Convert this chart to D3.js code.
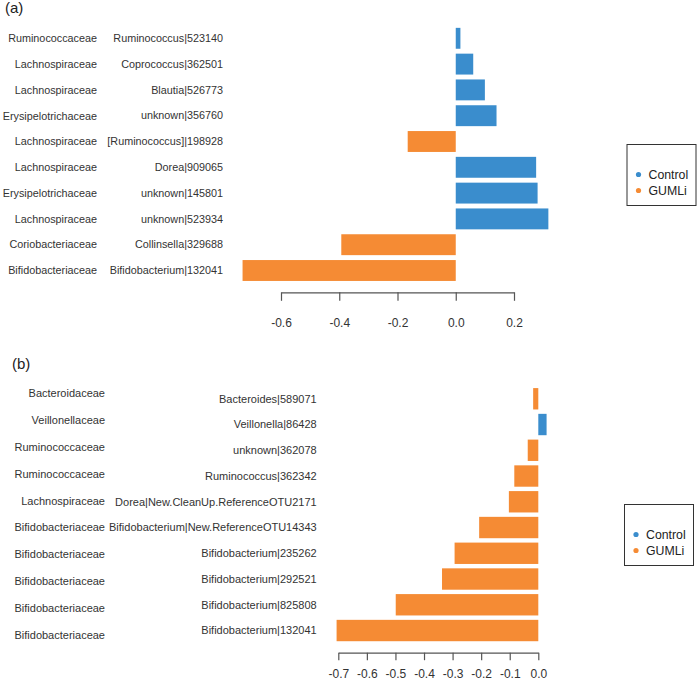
<!DOCTYPE html>
<html>
<head>
<meta charset="utf-8">
<script src="https://cdn.jsdelivr.net/npm/d3@7"></script>
<style>
  body { margin: 0; background: #fff; }
  svg { display: block; font-family: "Liberation Sans", Arial, sans-serif; }
</style>
</head>
<body>
<svg id="chart" width="698" height="688"></svg>
<script>
// panel (a)
const aFamily = ["Ruminococcaceae", "Lachnospiraceae", "Lachnospiraceae", "Erysipelotrichaceae",
  "Lachnospiraceae", "Lachnospiraceae", "Erysipelotrichaceae", "Lachnospiraceae",
  "Coriobacteriaceae", "Bifidobacteriaceae"];
const aGenus = ["Ruminococcus|523140", "Coprococcus|362501", "Blautia|526773", "unknown|356760",
  "[Ruminococcus]|198928", "Dorea|909065", "unknown|145801", "unknown|523934",
  "Collinsella|329688", "Bifidobacterium|132041"];
const aValue = [0.016, 0.06, 0.10, 0.14, -0.165, 0.276, 0.281, 0.318, -0.393, -0.732];
const aTicks = [-0.6, -0.4, -0.2, 0.0, 0.2];

// panel (b)
const bFamily = ["Bacteroidaceae", "Veillonellaceae", "Ruminococcaceae", "Ruminococcaceae",
  "Lachnospiraceae", "Bifidobacteriaceae", "Bifidobacteriaceae", "Bifidobacteriaceae",
  "Bifidobacteriaceae", "Bifidobacteriaceae"];
const bGenus = ["Bacteroides|589071", "Veillonella|86428", "unknown|362078", "Ruminococcus|362342",
  "Dorea|New.CleanUp.ReferenceOTU2171", "Bifidobacterium|New.ReferenceOTU14343",
  "Bifidobacterium|235262", "Bifidobacterium|292521", "Bifidobacterium|825808",
  "Bifidobacterium|132041"];
const bValue = [-0.018, 0.029, -0.037, -0.084, -0.103, -0.207, -0.293, -0.337, -0.499, -0.706];
const bTicks = [-0.7, -0.6, -0.5, -0.4, -0.3, -0.2, -0.1, 0.0];

const groups = ["Control", "GUMLi"];
const color = d3.scaleOrdinal().domain(groups).range(["#3a8dcd", "#f58b34"]);

const svg = d3.select("#chart");

function panel(cfg) {
  const idx = d3.range(cfg.values.length);
  const y = d3.scaleBand().domain(idx).range(cfg.rows)
    .paddingInner(cfg.pad).paddingOuter(cfg.pad / 2);
  const x = d3.scaleLinear().domain(cfg.domain).range(cfg.xrange);
  const fy = d3.scalePoint().domain(idx).range(cfg.famRows);

  svg.append("text")
    .attr("x", cfg.tag[0]).attr("y", cfg.tag[1])
    .attr("font-size", 15).attr("fill", "#222")
    .text(cfg.label);

  svg.append("g").selectAll("rect")
    .data(cfg.values)
    .join("rect")
    .attr("x", d => x(Math.min(0, d)))
    .attr("width", d => Math.abs(x(d) - x(0)))
    .attr("y", (d, i) => y(i))
    .attr("height", y.bandwidth())
    .attr("fill", d => color(d > 0 ? "Control" : "GUMLi"));

  // family names
  svg.append("g").selectAll("text")
    .data(cfg.family)
    .join("text")
    .attr("x", cfg.famX)
    .attr("y", (d, i) => fy(i))
    .attr("dy", "0.35em")
    .attr("text-anchor", "end")
    .attr("font-size", cfg.fs)
    .attr("fill", "#333")
    .text(d => d);

  // genus|otu names
  svg.append("g").selectAll("text")
    .data(cfg.genus)
    .join("text")
    .attr("x", cfg.genX)
    .attr("y", (d, i) => y(i) + y.bandwidth() / 2)
    .attr("dy", "0.35em")
    .attr("text-anchor", "end")
    .attr("font-size", cfg.fs)
    .attr("fill", "#333")
    .text(d => d);

  const axis = svg.append("g")
    .attr("transform", "translate(0," + cfg.axisY + ")")
    .call(d3.axisBottom(x)
      .tickValues(cfg.ticks)
      .tickFormat(d => d.toFixed(1))
      .tickSize(cfg.tickLen)
      .tickSizeOuter(0)
      .tickPadding(cfg.tickPad));
  axis.select(".domain").attr("stroke", "#555").attr("stroke-width", 1.2);
  axis.selectAll(".tick line").attr("stroke", "#555").attr("stroke-width", 1.2);
  axis.selectAll(".tick text")
    .attr("font-size", 12)
    .attr("font-family", "Liberation Sans, Arial, sans-serif")
    .attr("fill", "#333");

  // legend
  const lg = svg.append("g").attr("transform", "translate(" + cfg.leg[0] + "," + cfg.leg[1] + ")");
  lg.append("rect")
    .attr("width", 69).attr("height", 61)
    .attr("fill", "#fff").attr("stroke", "#333").attr("stroke-width", 1);
  lg.selectAll("circle")
    .data(groups)
    .join("circle")
    .attr("cx", 11.5)
    .attr("cy", (d, i) => 30 + i * 16)
    .attr("r", 2.6)
    .attr("fill", d => color(d));
  lg.selectAll("text")
    .data(groups)
    .join("text")
    .attr("x", 21.5)
    .attr("y", (d, i) => 30 + i * 16)
    .attr("dy", "0.35em")
    .attr("font-size", 12.3)
    .attr("fill", "#222")
    .text(d => d);
}

panel({
  label: "(a)", tag: [5, 13],
  family: aFamily, genus: aGenus, values: aValue, ticks: aTicks,
  rows: [25.4, 283.4], pad: 0.19, famRows: [38.4, 270.4],
  domain: [-0.6, 0.2], xrange: [281, 514],
  famX: 97, genX: 223, fs: 10.8,
  axisY: 292.3, tickLen: 8.5, tickPad: 17.7,
  leg: [627, 144.5]
});

panel({
  label: "(b)", tag: [12, 369],
  family: bFamily, genus: bGenus, values: bValue, ticks: bTicks,
  rows: [385.9, 643.4], pad: 0.17, famRows: [393.3, 635],
  domain: [-0.7, 0], xrange: [338.3, 538.3],
  famX: 105, genX: 316.7, fs: 11,
  axisY: 652.7, tickLen: 7.5, tickPad: 8.9,
  leg: [624.5, 504.5]
});
</script>
</body>
</html>
